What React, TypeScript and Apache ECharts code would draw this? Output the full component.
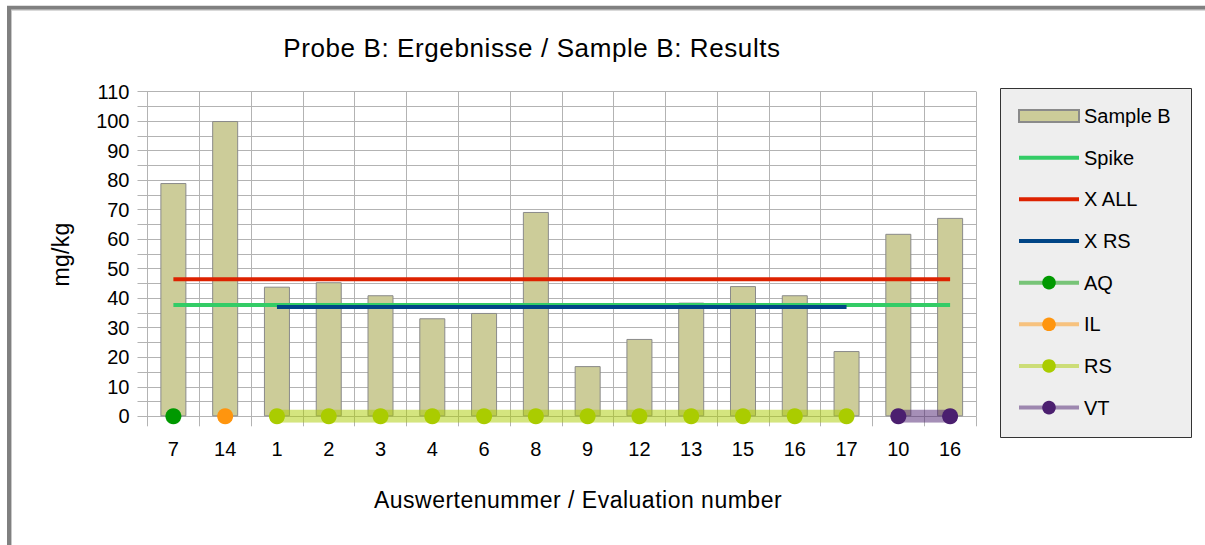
import React, { useEffect, useRef } from 'react';
import * as echarts from 'echarts';

const categories = ['7', '14', '1', '2', '3', '4', '6', '8', '9', '12', '13', '15', '16', '17', '10', '16'];
const sampleB = [79.0, 100.0, 43.9, 45.4, 41.0, 33.2, 35.0, 69.2, 17.0, 26.2, 38.5, 44.1, 41.0, 22.1, 61.8, 67.2];
const spike = [37.7, 37.7, 37.7, 37.7, 37.7, 37.7, 37.7, 37.7, 37.7, 37.7, 37.7, 37.7, 37.7, 37.7, 37.7, 37.7];
const xAll = [46.4, 46.4, 46.4, 46.4, 46.4, 46.4, 46.4, 46.4, 46.4, 46.4, 46.4, 46.4, 46.4, 46.4, 46.4, 46.4];
const xRs = [null, null, 37.0, 37.0, 37.0, 37.0, 37.0, 37.0, 37.0, 37.0, 37.0, 37.0, 37.0, 37.0, null, null];
const aq = [0, null, null, null, null, null, null, null, null, null, null, null, null, null, null, null];
const il = [null, 0, null, null, null, null, null, null, null, null, null, null, null, null, null, null];
const rs = [null, null, 0, 0, 0, 0, 0, 0, 0, 0, 0, 0, 0, 0, null, null];
const vt = [null, null, null, null, null, null, null, null, null, null, null, null, null, null, 0, 0];

const titleText = 'Probe B: Ergebnisse / Sample B: Results';
const xName = 'Auswertenummer / Evaluation number';
const yName = 'mg/kg';

const FONT = 'Liberation Sans';
const GRID_COLOR = '#b3b3b3';
const LINE_ICON = 'path://M0,0H60V4H0Z';

export default function App() {
  const ref = useRef<HTMLDivElement>(null);

  useEffect(() => {
    if (!ref.current) return;
    const chart = echarts.init(ref.current, null, { renderer: 'svg' });

    const dotSeries = (name: string, data: (number | null)[], dot: string, band: string) => ({
      name,
      type: 'line',
      data,
      symbol: 'circle',
      symbolSize: 16,
      showSymbol: true,
      itemStyle: { color: dot },
      lineStyle: { color: band, width: 13 },
      z: 5,
    });

    chart.setOption({
      animation: false,
      textStyle: { fontFamily: FONT },
      grid: { left: 147.5, right: 229, top: 91.5, bottom: 128.7, containLabel: false },
      xAxis: {
        type: 'category',
        data: categories,
        boundaryGap: true,
        axisLine: { show: true, lineStyle: { color: GRID_COLOR, width: 1 } },
        axisTick: { show: true, length: 10, alignWithLabel: false, interval: 0, lineStyle: { color: GRID_COLOR } },
        axisLabel: { interval: 0, fontSize: 20, color: '#000', margin: 23, fontFamily: FONT },
        splitLine: { show: true, interval: 0, lineStyle: { color: GRID_COLOR, width: 1 } },
      },
      yAxis: {
        type: 'value',
        min: 0,
        max: 110,
        interval: 10,
        axisLine: { show: true, lineStyle: { color: GRID_COLOR, width: 1 } },
        axisTick: { show: true, length: 10, lineStyle: { color: GRID_COLOR } },
        minorTick: { show: true, splitNumber: 2, length: 10, lineStyle: { color: GRID_COLOR } },
        axisLabel: { fontSize: 20, color: '#000', margin: 18, fontFamily: FONT },
        splitLine: { show: true, lineStyle: { color: GRID_COLOR, width: 1 } },
        minorSplitLine: { show: true, lineStyle: { color: GRID_COLOR, width: 1 } },
      },
      legend: {
        orient: 'vertical',
        left: 1017,
        top: 106,
        padding: 0,
        itemWidth: 60,
        itemHeight: 17,
        itemGap: 21.66,
        textStyle: { fontSize: 20, color: '#000', fontFamily: FONT },
        data: [
          { name: 'Sample B', icon: 'path://M0,0H60V12H0Z' },
          { name: 'Spike', icon: LINE_ICON },
          { name: 'X ALL', icon: LINE_ICON },
          { name: 'X RS', icon: LINE_ICON },
          { name: 'AQ', lineStyle: { width: 4 } },
          { name: 'IL', lineStyle: { width: 4 } },
          { name: 'RS', lineStyle: { width: 4 } },
          { name: 'VT', lineStyle: { width: 4 } },
        ],
      },
      graphic: [
        { type: 'line', shape: { x1: 9, y1: 6, x2: 9, y2: 545 }, style: { stroke: '#808080', lineWidth: 4 }, z: 0 },
        { type: 'line', shape: { x1: 11.5, y1: 9.5, x2: 11.5, y2: 545 }, style: { stroke: '#c8c8c8', lineWidth: 1 }, z: 0 },
        { type: 'line', shape: { x1: 7, y1: 7.7, x2: 1205, y2: 7.7 }, style: { stroke: '#808080', lineWidth: 4 }, z: 0 },
        { type: 'line', shape: { x1: 11, y1: 10.2, x2: 1205, y2: 10.2 }, style: { stroke: '#c8c8c8', lineWidth: 1 }, z: 0 },
        {
          type: 'rect',
          shape: { x: 1000.5, y: 88.5, width: 191, height: 349 },
          style: { fill: '#eeeeee', stroke: '#333333', lineWidth: 1 },
          z: 0,
        },
        {
          type: 'text',
          x: 532,
          y: 48,
          style: { text: titleText, fontSize: 26, fontFamily: FONT, fill: '#000', textAlign: 'center', textVerticalAlign: 'middle' },
          z: 10,
        },
        {
          type: 'text',
          x: 578,
          y: 499.5,
          style: { text: xName, fontSize: 23, fontFamily: FONT, fill: '#000', textAlign: 'center', textVerticalAlign: 'middle' },
          z: 10,
        },
        {
          type: 'text',
          x: 61,
          y: 254.5,
          rotation: Math.PI / 2,
          style: { text: yName, fontSize: 23, fontFamily: FONT, fill: '#000', textAlign: 'center', textVerticalAlign: 'middle' },
          z: 10,
        },
      ],
      series: [
        {
          name: 'Sample B',
          type: 'bar',
          data: sampleB,
          barWidth: 26,
          itemStyle: { color: '#cccc99', borderColor: '#8a8a8a', borderWidth: 1 },
          z: 2,
        },
        { name: 'Spike', type: 'line', data: spike, symbol: 'none', lineStyle: { color: '#33cc66', width: 4 }, itemStyle: { color: '#33cc66' }, z: 3 },
        { name: 'X ALL', type: 'line', data: xAll, symbol: 'none', lineStyle: { color: '#dd2200', width: 4 }, itemStyle: { color: '#dd2200' }, z: 3 },
        { name: 'X RS', type: 'line', data: xRs, symbol: 'none', lineStyle: { color: '#004586', width: 4 }, itemStyle: { color: '#004586' }, z: 3 },
        dotSeries('AQ', aq, '#009900', 'rgba(0,153,0,0.5)'),
        dotSeries('IL', il, '#ff950e', 'rgba(255,149,14,0.5)'),
        dotSeries('RS', rs, '#aacc00', 'rgba(170,204,0,0.5)'),
        dotSeries('VT', vt, '#4b1f6f', 'rgba(75,31,111,0.5)'),
      ],
    });

    const spacing: Record<string, string> = { [titleText]: '0.6px', [xName]: '0.5px', [yName]: '0.3px' };
    ref.current.querySelectorAll('text').forEach((t) => {
      const s = spacing[(t.textContent || '').trim()];
      if (s) (t as SVGTextElement).style.letterSpacing = s;
    });

    return () => chart.dispose();
  }, []);

  return (
    <div
      ref={ref}
      style={{ position: 'absolute', left: 0, top: 0, width: 1205, height: 545, background: '#fff' }}
    />
  );
}
